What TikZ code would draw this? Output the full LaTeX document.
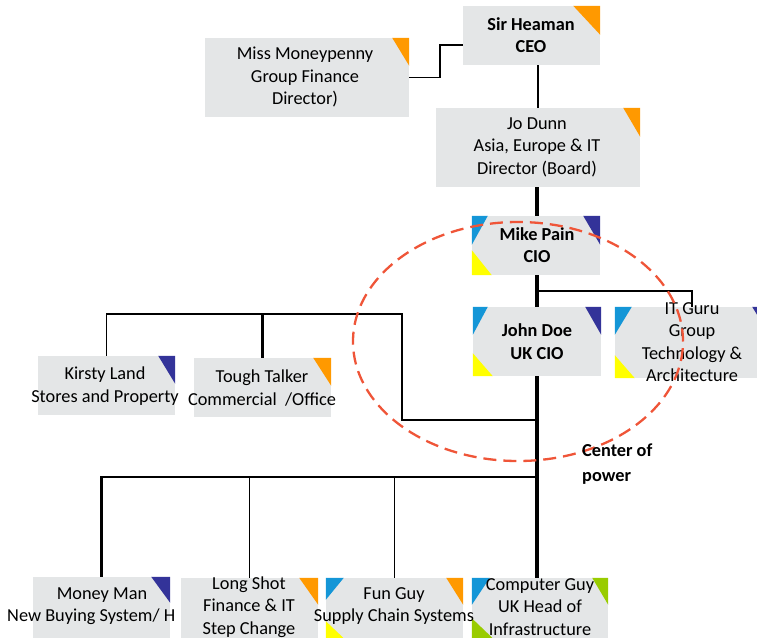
\documentclass[tikz,border=0pt]{standalone}
\usepackage{fontspec}
\setmainfont{Carlito}
\definecolor{boxgray}{RGB}{228,230,231}
\definecolor{corange}{RGB}{255,153,0}
\definecolor{cdblue}{RGB}{51,51,153}
\definecolor{clblue}{RGB}{20,150,215}
\definecolor{cyellow}{RGB}{255,255,0}
\definecolor{cgreen}{RGB}{153,204,0}
\definecolor{cring}{RGB}{239,85,56}
\newcommand\trTR[4]{\fill[#2] (#1.north east) -- ++(-#3pt,0pt) -- ++(#3pt,-#4pt) -- cycle;}
\newcommand\trTL[4]{\fill[#2] (#1.north west) -- ++(#3pt,0pt) -- ++(-#3pt,-#4pt) -- cycle;}
\newcommand\trBL[4]{\fill[#2] (#1.south west) -- ++(#3pt,0pt) -- ++(-#3pt,#4pt) -- cycle;}
\begin{document}
\begin{tikzpicture}[x=1pt,y=-1pt,
  box/.style n args={2}{rectangle, fill=boxgray, draw=none, inner sep=0pt, minimum width=#1pt, minimum height=#2pt},
  txt/.style={align=center, font=\fontsize{18.3}{22.5}\selectfont, inner sep=0pt},
  btxt/.style={txt, font=\fontsize{18.3}{22.5}\selectfont\bfseries},
  thinline/.style={line width=1.9pt},
  midline/.style={line width=2.4pt},
  spineline/.style={line width=4.5pt},
  ring/.style={draw=cring, line width=2.3pt, dash pattern=on 13pt off 7pt}]
\useasboundingbox (0,0) rectangle (757,637);
\clip (0,0) rectangle (757,637);

% boxes
\node[box={137}{59}] (ceo) at (531.5,35.5) {};
\node[box={204}{79}] (money) at (307,77.5) {};
\node[box={204}{79}] (jodunn) at (538,147.5) {};
\node[box={128}{59}] (mike) at (536,245.5) {};
\node[box={128}{69}] (john) at (537,341.5) {};
\node[box={154}{71}] (itguru) at (692,342.5) {};
\node[box={137}{59}] (kirsty) at (106.5,385.5) {};
\node[box={137}{59}] (tough) at (262.5,387.5) {};
\node[box={137}{63}] (moneyman) at (101.5,608.5) {};
\node[box={137}{62}] (longshot) at (249.5,609) {};
\node[box={137}{62}] (funguy) at (394.5,609) {};
\node[box={136}{62}] (compguy) at (540,609) {};

% connectors
\coordinate (spine) at (537,0);
\coordinate (mpelbow) at (440,45);
\coordinate (itjoin) at (537,291);
\coordinate (lb) at (402,420);
\coordinate (ltop) at (402,314);
\coordinate (lowbus) at (537,477);
\draw[thinline] (money.east) -| (mpelbow) -- (ceo.west |- mpelbow);
\draw[midline] (jodunn.north |- ceo.south) -- (jodunn.north);
\draw[spineline] (spine |- jodunn.south) -- (spine |- mike.north);
\draw[spineline] (spine |- mike.south) -- (spine |- john.north);
\draw[thinline] (itjoin) -| (itguru.north);
\draw[spineline] (spine |- john.south) -- (spine |- compguy.north);
\draw[midline] (spine |- lb) -- (lb) -- (ltop) -| (tough.north);
\draw[thinline] (tough.north |- ltop) -| (kirsty.north);
\draw[midline] (lowbus) -| (moneyman.north);
\draw[thinline] (longshot.north |- lowbus) -- (longshot.north);
\draw[thinline] (funguy.north |- lowbus) -- (funguy.north);

% corner triangles
\trTR{ceo}{corange}{27}{29}
\trTR{money}{corange}{17}{28}
\trTR{jodunn}{corange}{17}{29}
\trTL{mike}{clblue}{16}{29}
\trTR{mike}{cdblue}{17}{29}
\trBL{mike}{cyellow}{20}{25}
\trTL{john}{clblue}{15}{28}
\trTR{john}{cdblue}{16}{28}
\trBL{john}{cyellow}{20}{23}
\trTL{itguru}{clblue}{17}{28}
\trTR{itguru}{cdblue}{17}{28}
\trBL{itguru}{cyellow}{20}{23}
\trTR{kirsty}{cdblue}{17}{28}
\trTR{tough}{corange}{18}{28}
\trTR{moneyman}{cdblue}{19}{26}
\trTR{longshot}{corange}{19}{27}
\trTL{funguy}{clblue}{18}{22}
\trTR{funguy}{corange}{17}{27}
\trBL{funguy}{cyellow}{20}{19}
\trTL{compguy}{clblue}{18}{27}
\trTR{compguy}{cgreen}{16}{27}
\trBL{compguy}{cgreen}{23}{22}

% texts
\node[btxt] (ceo-t) at (531,35) {Sir Heaman\\CEO};
\node[txt] (money-t) at (305,77) {Miss Moneypenny\\Group Finance\\Director)};
\node[txt] (jodunn-t) at (537,147) {Jo Dunn\\Asia, Europe \& IT\\Director (Board)};
\node[btxt] (mike-t) at (537,245) {Mike Pain\\CIO};
\node[btxt] (john-t) at (537,341.5) {John Doe\\UK CIO};
\node[txt] (itguru-t) at (692,342) {IT Guru\\Group\\Technology \&\\Architecture};
\node[txt] (kirsty-t) at (105,386) {Kirsty Land\\Stores and Property};
\node[txt] (tough-t) at (262,388) {Tough Talker\\Commercial\ \ /Office};
\node[txt] (moneyman-t1) at (102,595) {Money Man};
\node[txt, anchor=west] (moneyman-t2) at (7,617) {New Buying System/ H};
\node[txt] (longshot-t) at (249,607) {Long Shot\\Finance \& IT\\Step Change};
\node[txt] (funguy-t) at (394,606) {Fun Guy\\Supply Chain Systems};
\node[txt] (compguy-t) at (540,607) {Computer Guy\\UK Head of\\Infrastructure};

% center of power
\draw[ring] (518,341.5) ellipse [x radius=165pt, y radius=119.5pt];
\node[txt, align=left, anchor=west, font=\fontsize{18.3}{25}\selectfont\bfseries] (power) at (582,464) {Center of\\power};
\end{tikzpicture}
\end{document}
